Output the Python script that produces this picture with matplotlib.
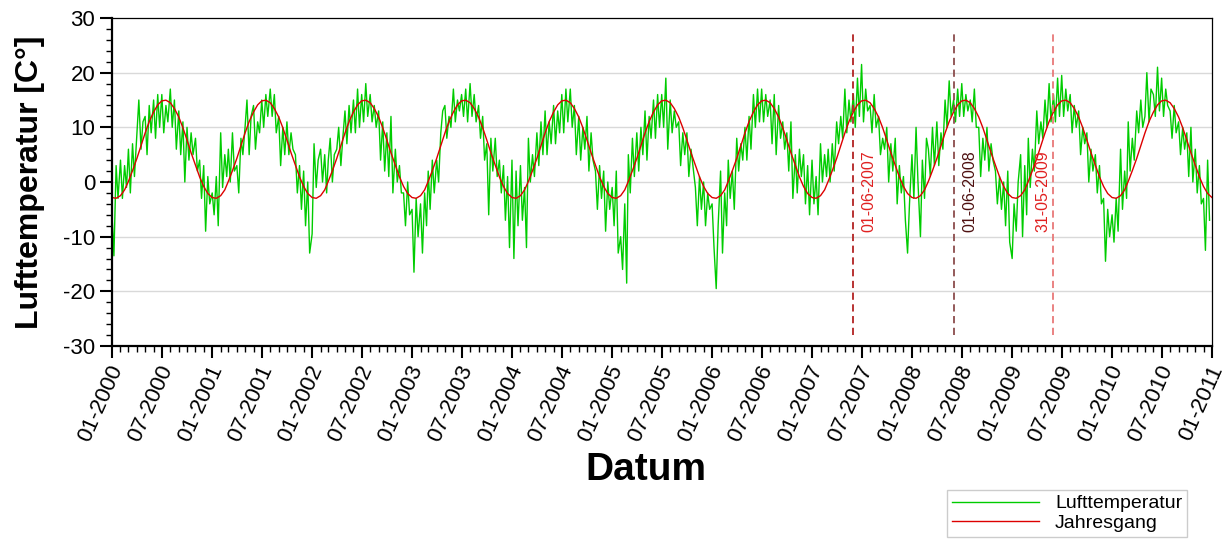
import datetime as dt
import matplotlib
matplotlib.use('Agg')
import matplotlib.pyplot as plt
import matplotlib.dates as mdates
from matplotlib.transforms import ScaledTranslation

plt.rcParams['font.family'] = ['Liberation Sans', 'DejaVu Sans']
plt.rcParams['axes.unicode_minus'] = False

# Lufttemperatur, 4 readings per month (days 1, 8, 16, 23)
luft_2000 = [-6, -13.5, 3, -3, 4, -3, 3, -1, 6, -2, 7, 1, 9, 15, 6, 11,
             12, 5, 14, 9, 15, 8, 16, 10, 16, 9, 14, 11, 17, 10, 15, 6,
             13, 5, 11, 0, 10, 4, 9, 5, 8, 2, 4, -3, 3, -9, 1, -4]
luft_2001 = [-2, -6, 1, -8, 9, -1, 5, 1, 6, 0, 9, 2, 3, -2, 8, 5,
             10, 15, 5, 12, 14, 6, 11, 9, 15, 10, 16, 12, 17, 12, 16, 9,
             12, 3, 10, 5, 11, 5, 9, 6, 5, -2, 3, -5, 2, -8, 0, -13]
luft_2002 = [-9.5, 7, -1, 4, 6, 0, 5, -2, 4, 8, 0, 5, 6, 10, 3, 8,
             13, 7, 14, 9, 15, 9, 17, 10, 16, 11, 18, 12, 16, 11, 14, 10,
             13, 4, 11, 2, 9, 1, 12, -2, 6, 0, 3, -2, -2, -8, 0, -6]
luft_2003 = [-5, -16.5, -3, -10, -4, -13, -2, -8, 2, -5, 4, -2, 4, 0, 9, 13,
             14, 8, 12, 10, 17, 11, 15, 13, 16, 12, 17, 11, 18, 12, 16, 11,
             14, 8, 12, 4, 7, -6, 8, 2, 8, 1, 4, -2, 3, -7, 1, -12]
luft_2004 = [4, -14, 2, -8, 3, -7, -1, -12, 8, 0, 5, 1, 9, 3, 11, 5,
             13, 5, 11, 7, 14, 7, 13, 9, 16, 9, 17, 11, 17, 10, 14, 5,
             12, 4, 10, 6, 12, 2, 9, 4, 2, -5, 3, -3, 2, -9, 0, -5]
luft_2005 = [-1, -8, 2, -13, -10, -16, -4, -18.5, 5, -2, 8, 1, 9, 2, 10, 5,
             13, 4, 12, 8, 15, 8, 16, 10, 16, 10, 19, 6, 15, 9, 13, 10,
             11, 3, 9, 5, 9, 1, 6, 3, -1, -8, 1, -5, 0, -8, -2, -5]
luft_2006 = [-4, -12, -19.5, -8, 2, -13, -2, -8, 4, -3, 2, -5, 8, 2, 7, 4,
             10, 4, 12, 6, 16, 10, 17, 11, 17, 11, 16, 12, 15, 7, 16, 5,
             14, 8, 11, 6, 9, 2, 11, -3, 5, -2, 6, 1, 5, -4, 3, -6]
luft_2007 = [4, -4, 1, -6, 7, 0, 5, 1, 6, 0, 7, 2, 11, 7, 12, 8,
             17, 9, 15, 11, 16, 10, 19, 12, 21.5, 11, 17, 13, 14, 9, 16, 10,
             12, 5, 8, 6, 10, 0, 7, 2, 8, -4, 3, -2, 1, -7, -13, -4]
luft_2008 = [5, -3, 10, 0, -10, 4, -3, 8, 6, 1, 10, 3, 11, 3, 9, 6,
             15, 10, 18.5, 12, 15, 11, 17, 12, 18, 12, 16, 13, 15, 11, 17, 10,
             10, 1, 8, 4, 10, 2, 7, 4, 2, -4, 1, -5, 0, -8, 2, -11]
luft_2009 = [-14, -4, -9, 0, 5, -10, 3, -6, 8, -1, 6, 2, 13, 7, 11, 8,
             15, 10, 18, 11, 16, 11, 19, 12, 19.5, 12, 17, 13, 16, 9, 14, 10,
             13, 5, 10, 7, 9, 0, 6, 2, 5, -2, 3, -4, -3, -14.5, -5, -10]
luft_2010 = [-6, -11, -3, -9, 6, -5, 2, -3, 11, 2, 8, 4, 13, 9, 15, 10,
             12, 20, 11, 17, 16, 12, 21, 13, 19, 12, 17, 14, 13, 8, 14, 9,
             11, 5, 10, 6, 9, 1, 10, 0, 6, -2, 3, -4, -3, -12.5, 4, -7]

# Jahresgang, one typical year (days 1 and 16 of each month)
jahresgang = [-2.84, -2.98, -2.50, -1.44, 0.12, 2.08, 4.32, 6.66, 8.96, 11.06, 12.80, 14.11,
              14.84, 14.97, 14.50, 13.44, 11.88, 9.92, 7.68, 5.34, 3.04, 0.94, -0.81, -2.11]

years = list(range(2000, 2011))
reading_days = [1, 8, 16, 23]

marker_dates = [dt.date(2007, 6, 1), dt.date(2008, 6, 1), dt.date(2009, 5, 31)]
marker_labels = ['01-06-2007', '01-06-2008', '31-05-2009']
marker_line_colors = ['#b22222', '#8b4c4c', '#e87878']
marker_text_colors = ['#e02020', '#4d0f0f', '#e02020']

luft = (luft_2000 + luft_2001 + luft_2002 + luft_2003 + luft_2004 + luft_2005
        + luft_2006 + luft_2007 + luft_2008 + luft_2009 + luft_2010)
luft_dates = [dt.date(y, m, d) for y in years for m in range(1, 13) for d in reading_days]
jg_dates = [dt.date(y, m, d) for y in years for m in range(1, 13) for d in (1, 16)]
jg_dates.append(dt.date(2011, 1, 1))
jg_values = jahresgang * len(years) + [jahresgang[0]]

fig = plt.figure(figsize=(12.23, 5.42), dpi=100)
ax = fig.add_axes([112 / 1223, 1 - 346 / 542, 1100 / 1223, 328 / 542])

ax.plot(luft_dates, luft, color='#00cc00', lw=1.0, label='Lufttemperatur')
ax.plot(jg_dates, jg_values, color='#dd0000', lw=1.0, label='Jahresgang')

# marker lines for the dates
offsets = [6, 6, -2]
for d, lab, lc, tc, off in zip(marker_dates, marker_labels, marker_line_colors,
                               marker_text_colors, offsets):
    ax.plot([d, d], [-28, 27.7], color=lc, lw=1.3, ls=(0, (4, 2.5)))
    ax.annotate(lab, xy=(d, -9.2), xytext=(off, 0), textcoords='offset points',
                rotation=90, ha='left' if off > 0 else 'right', va='bottom',
                fontsize=11.5, color=tc)

ax.set_xlim(dt.date(2000, 1, 1), dt.date(2011, 1, 1))
ax.set_ylim(-30, 30)
ax.set_yticks(range(-30, 31, 10))
ax.set_yticks(range(-30, 31, 2), minor=True)
ax.xaxis.set_major_locator(mdates.MonthLocator(bymonth=[1, 7]))
ax.xaxis.set_minor_locator(mdates.MonthLocator())
ax.xaxis.set_major_formatter(mdates.DateFormatter('%m-%Y'))

for g in range(-20, 21, 10):
    ax.axhline(g, color='#d9d9d9', lw=1.0, zorder=0)

ax.tick_params(which='major', length=8.5, width=1.5, labelsize=16, direction='out')
ax.tick_params(which='minor', length=4.5, width=1.0, direction='out')
ax.tick_params(axis='x', which='major', pad=3)
shift = ScaledTranslation(-3 / 72, 0, fig.dpi_scale_trans)
for lbl in ax.get_xticklabels():
    lbl.set_rotation(66)
    lbl.set_ha('right')
    lbl.set_va('top')
    lbl.set_rotation_mode('anchor')
    lbl.set_transform(lbl.get_transform() + shift)

ax.spines['left'].set_linewidth(1.6)
ax.spines['bottom'].set_linewidth(1.6)
ax.spines['top'].set_linewidth(0.9)
ax.spines['right'].set_linewidth(0.9)

ax.set_ylabel('Lufttemperatur [C°]', fontsize=23, fontweight='bold')
ax.yaxis.set_label_coords(-0.061, 0.5)
ax.set_xlabel('Datum', fontsize=28, fontweight='bold')
ax.xaxis.set_label_coords(0.4855, -0.323)

leg = fig.legend(loc='upper left', bbox_to_anchor=(947 / 1223, 1 - 490 / 542),
                 fontsize=14, handlelength=4.5, handletextpad=0.8, borderpad=0.25,
                 labelspacing=0.1, borderaxespad=0, fancybox=False, framealpha=1)
leg.get_frame().set_edgecolor('#cccccc')
leg.get_frame().set_linewidth(1.0)

fig.savefig('out.png', dpi=100)
